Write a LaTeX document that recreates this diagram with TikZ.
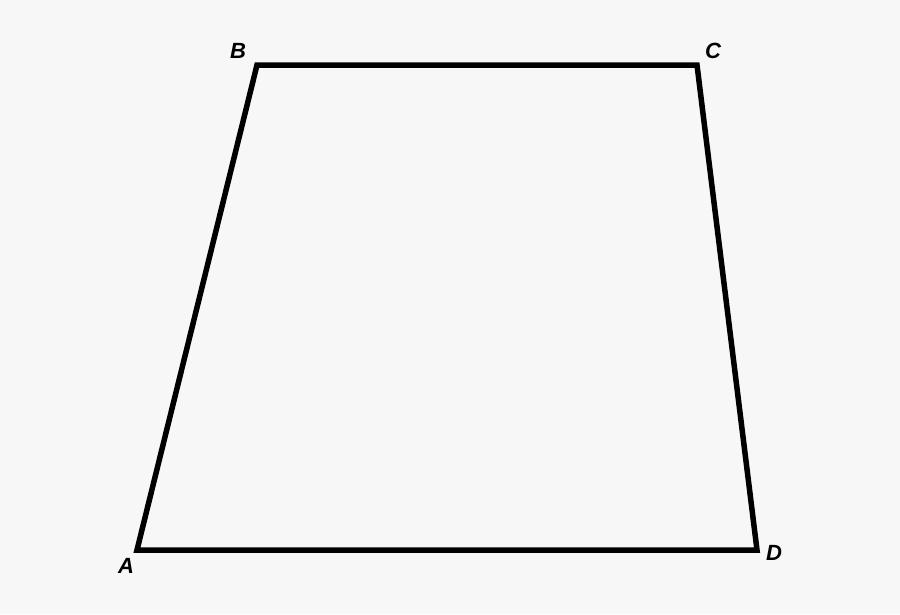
\documentclass[tikz,border=0pt]{standalone}
\usepackage{fontspec}
\setmainfont{Liberation Sans}
\definecolor{bg}{HTML}{F7F7F7}
\begin{document}
\begin{tikzpicture}[x=1pt,y=-1pt,
  lbl/.style={font=\fontsize{22}{26}\selectfont\bfseries\itshape, inner sep=0pt},
  edge/.style={line width=5.5pt, line join=miter}]
\fill[bg] (0,0) rectangle (900,614);
\useasboundingbox (0,0) rectangle (900,614);
\coordinate (A) at (137,550);
\coordinate (B) at (257,65);
\coordinate (C) at (697,65);
\coordinate (D) at (757,550);
\draw[edge] (A) -- (B) -- (C) -- (D) -- cycle;
\node[lbl] (lA) at (126,566) {A};
\node[lbl] (lB) at (238,51) {B};
\node[lbl] (lC) at (713,51) {C};
\node[lbl] (lD) at (774,553) {D};
\end{tikzpicture}
\end{document}
